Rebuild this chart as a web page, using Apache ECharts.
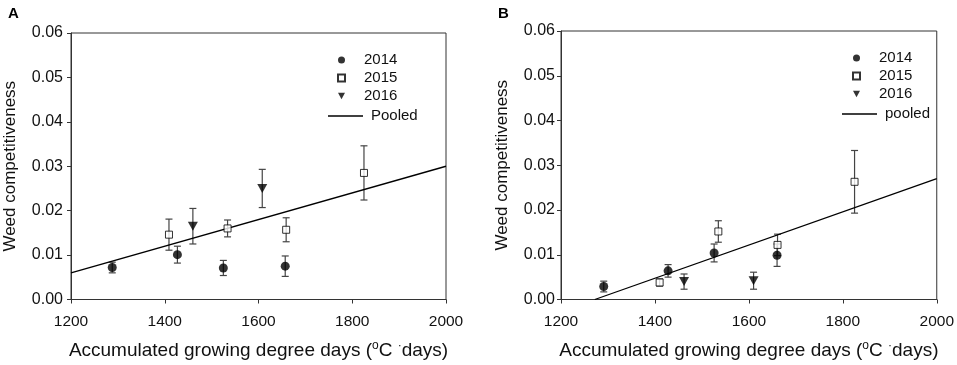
<!DOCTYPE html>
<html>
<head>
<meta charset="utf-8">
<script src="https://cdn.jsdelivr.net/npm/echarts@6/dist/echarts.min.js"></script>
<style>
  html, body { margin: 0; padding: 0; background: #fff; }
  #main { width: 957px; height: 365px; }
</style>
</head>
<body>
<div id="main"></div>
<script>
// panel A
const xA2014 = [1288, 1427, 1525, 1657]
const yA2014 = [0.0072, 0.0101, 0.0071, 0.0075]
const eA2014 = [0.0012, 0.0019, 0.0017, 0.0023]
const xA2015 = [1409, 1534, 1659, 1825]
const yA2015 = [0.0146, 0.0160, 0.0157, 0.0285]
const eA2015 = [0.0035, 0.0019, 0.0027, 0.0061]
const xA2016 = [1460, 1608]
const yA2016 = [0.0165, 0.0250]
const eA2016 = [0.0040, 0.0043]
const xAPooled = [1200, 2000]
const yAPooled = [0.006, 0.030]

// panel B
const xB2014 = [1291, 1428, 1526, 1660]
const yB2014 = [0.0029, 0.0064, 0.0104, 0.0099]
const eB2014 = [0.0012, 0.0014, 0.0020, 0.0025]
const xB2015 = [1410, 1535, 1661, 1825]
const yB2015 = [0.0038, 0.0152, 0.0122, 0.0263]
const eB2015 = [0.0008, 0.0024, 0.0024, 0.0070]
const xB2016 = [1462, 1610]
const yB2016 = [0.0040, 0.0042]
const eB2016 = [0.0017, 0.0019]
const xBPooled = [1272, 2000]
const yBPooled = [0, 0.027]

const xTicks = [1200, 1400, 1600, 1800, 2000]
const yTicks = [0, 0.01, 0.02, 0.03, 0.04, 0.05, 0.06]

const FONT = 'Liberation Sans'
const INK = '#111'
const DOWN_TRI = 'path://M0,0 L10,0 L5,9 Z'

const zip = (xs, ys) => xs.map((x, i) => [x, ys[i]])
const zipErr = (xs, ys, es) => xs.map((x, i) => [x, ys[i], es[i]])

const errSeries = (name, idx, data) => ({
  name: name,
  type: 'custom',
  xAxisIndex: idx,
  yAxisIndex: idx,
  z: 1,
  silent: true,
  data: data,
  renderItem: (params, api) => {
    const x = api.value(0), y = api.value(1), e = api.value(2)
    const top = api.coord([x, y + e])
    const bot = api.coord([x, y - e])
    const w = 3.5
    const st = { stroke: '#444', lineWidth: 1.2 }
    return {
      type: 'group',
      children: [
        { type: 'line', shape: { x1: top[0], y1: top[1], x2: bot[0], y2: bot[1] }, style: st },
        { type: 'line', shape: { x1: top[0] - w, y1: top[1], x2: top[0] + w, y2: top[1] }, style: st },
        { type: 'line', shape: { x1: bot[0] - w, y1: bot[1], x2: bot[0] + w, y2: bot[1] }, style: st }
      ]
    }
  }
})

const circle = (idx, data) => ({
  name: '2014', type: 'scatter', xAxisIndex: idx, yAxisIndex: idx, z: 3,
  symbol: 'circle', symbolSize: 9, data: data,
  itemStyle: { color: '#000' }
})
const square = (idx, data) => ({
  name: '2015', type: 'scatter', xAxisIndex: idx, yAxisIndex: idx, z: 3,
  symbol: 'rect', symbolSize: 7, data: data,
  itemStyle: { color: '#fff', borderColor: '#000', borderWidth: 1 }
})
const triangle = (idx, data) => ({
  name: '2016', type: 'scatter', xAxisIndex: idx, yAxisIndex: idx, z: 3,
  symbol: DOWN_TRI, symbolSize: [10, 9], data: data,
  itemStyle: { color: '#000' }
})
const pooled = (name, idx, data) => ({
  name: name, type: 'line', xAxisIndex: idx, yAxisIndex: idx, z: 2,
  symbol: 'none', data: data, silent: true,
  itemStyle: { color: '#000' },
  lineStyle: { color: '#000', width: 1.3 }
})

const xAxisOf = (idx) => ({
  type: 'value', gridIndex: idx, min: 1200, max: 2000, interval: 200,
  name: '{t|Accumulated growing degree days (}{s|o}{t|C }{s|·}{t|days)}',
  nameLocation: 'middle', nameGap: 40,
  nameTextStyle: {
    rich: {
      t: { fontFamily: FONT, fontSize: 19, color: INK, lineHeight: 22 },
      s: { fontFamily: FONT, fontSize: 12, color: INK, verticalAlign: 'top', lineHeight: 22, padding: [0, 0, 8, 0] }
    }
  },
  splitLine: { show: false },
  axisLine: { show: true, onZero: false, lineStyle: { color: '#333', width: 1 } },
  axisTick: { show: true, inside: false, length: 4, lineStyle: { color: '#333' } },
  axisLabel: {
    fontFamily: FONT, fontSize: 15.5, color: INK, margin: 14,
    formatter: v => xTicks.includes(v) ? String(v) : ''
  }
})

const yAxisOf = (idx, gap, margin) => ({
  type: 'value', gridIndex: idx, min: 0, max: 0.06, interval: 0.01,
  name: 'Weed competitiveness', nameLocation: 'middle', nameGap: gap,
  nameTextStyle: { fontFamily: FONT, fontSize: 17, color: INK },
  splitLine: { show: false },
  axisLine: { show: true, onZero: false, lineStyle: { color: '#333', width: 1 } },
  axisTick: { show: true, inside: false, length: 4, lineStyle: { color: '#333' } },
  axisLabel: {
    fontFamily: FONT, fontSize: 16, color: INK, margin: margin,
    formatter: v => yTicks.some(t => Math.abs(t - v) < 1e-9) ? v.toFixed(2) : ''
  }
})

const legendMarks = (left, top) => ({
  left: left, top: top, orient: 'vertical',
  data: [
    { name: '2014', icon: 'circle' },
    { name: '2015', icon: 'rect' },
    { name: '2016', icon: DOWN_TRI }
  ],
  itemWidth: 7, itemHeight: 7, itemGap: 2, selectedMode: false,
  textStyle: { fontFamily: FONT, fontSize: 15, color: INK, lineHeight: 16, padding: [0, 0, 0, 14] }
})
const legendLine = (name, left, top) => ({
  left: left, top: top, orient: 'vertical',
  data: [{ name: name, icon: 'rect', itemStyle: { color: '#000' } }],
  itemWidth: 35, itemHeight: 1.3, selectedMode: false,
  textStyle: { fontFamily: FONT, fontSize: 15, color: INK, lineHeight: 16, padding: [0, 0, 0, 3] }
})

const chart = echarts.init(document.getElementById('main'), null, { renderer: 'canvas' })
chart.setOption({
  animation: false,
  backgroundColor: '#fff',
  title: [
    { text: 'A', left: 3, top: 1, textStyle: { fontFamily: FONT, fontSize: 15, fontWeight: 'bold', color: '#000' } },
    { text: 'B', left: 493, top: 1, textStyle: { fontFamily: FONT, fontSize: 15, fontWeight: 'bold', color: '#000' } }
  ],
  grid: [
    { left: 71, top: 33, width: 375, height: 269, show: true, borderColor: '#333', borderWidth: 1, backgroundColor: 'transparent' },
    { left: 561, top: 31, width: 377, height: 269, show: true, borderColor: '#333', borderWidth: 1, backgroundColor: 'transparent' }
  ],
  legend: [
    legendMarks(332, 47),
    legendLine('Pooled', 323, 103),
    legendMarks(847, 45),
    legendLine('pooled', 837, 101)
  ],
  xAxis: [xAxisOf(0), xAxisOf(1)],
  yAxis: [yAxisOf(0, 52, 8), yAxisOf(1, 50, 6)],
  series: [
    errSeries('errA2014', 0, zipErr(xA2014, yA2014, eA2014)),
    errSeries('errA2015', 0, zipErr(xA2015, yA2015, eA2015)),
    errSeries('errA2016', 0, zipErr(xA2016, yA2016, eA2016)),
    pooled('Pooled', 0, zip(xAPooled, yAPooled)),
    circle(0, zip(xA2014, yA2014)),
    square(0, zip(xA2015, yA2015)),
    triangle(0, zip(xA2016, yA2016)),

    errSeries('errB2014', 1, zipErr(xB2014, yB2014, eB2014)),
    errSeries('errB2015', 1, zipErr(xB2015, yB2015, eB2015)),
    errSeries('errB2016', 1, zipErr(xB2016, yB2016, eB2016)),
    pooled('pooled', 1, zip(xBPooled, yBPooled)),
    circle(1, zip(xB2014, yB2014)),
    square(1, zip(xB2015, yB2015)),
    triangle(1, zip(xB2016, yB2016))
  ]
})
</script>
</body>
</html>
